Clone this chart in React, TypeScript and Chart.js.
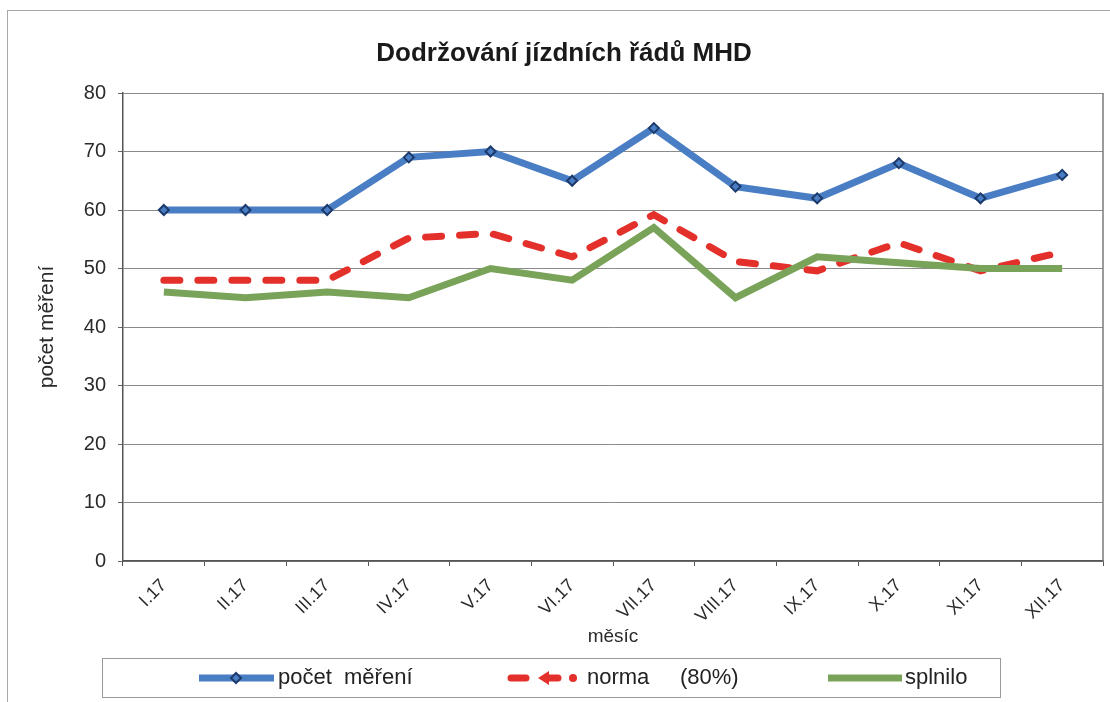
import React, { useEffect, useRef } from "react";
import { Chart, registerables } from "chart.js";

Chart.register(...registerables);

const categories = ["I.17", "II.17", "III.17", "IV.17", "V.17", "VI.17", "VII.17", "VIII.17", "IX.17", "X.17", "XI.17", "XII.17"];
const pocetMereni = [60, 60, 60, 69, 70, 65, 74, 64, 62, 68, 62, 66];
const norma = [48, 48, 48, 55.2, 56, 52, 59.2, 51.2, 49.6, 54.4, 49.6, 52.8];
const splnilo = [46, 45, 46, 45, 50, 48, 57, 45, 52, 51, 50, 50];
const yTicks = [0, 10, 20, 30, 40, 50, 60, 70, 80];
const legendLabels = ["počet  měření", "norma     (80%)", "splnilo"];

const BLUE = "#4a7ec4";
const BLUE_DARK = "#1c3a6b";
const RED = "#e3302b";
const GREEN = "#7aa35a";
const FONT = "'Liberation Sans', Arial, sans-serif";
const TITLE = "Dodržování jízdních řádů MHD";

const decorPlugin = {
  id: "decor",
  beforeDraw(chart: any) {
    const { ctx, width, height } = chart;
    ctx.save();
    ctx.fillStyle = "#ffffff";
    ctx.fillRect(0, 0, width, height);
    ctx.strokeStyle = "#a8a8a8";
    ctx.lineWidth = 1;
    ctx.strokeRect(7.5, 10.5, width + 10, height + 10);
    ctx.restore();
  },
  afterDraw(chart: any) {
    const { ctx, chartArea } = chart;
    ctx.save();
    // plot right border
    ctx.strokeStyle = "#7a7a7a";
    ctx.lineWidth = 1.5;
    ctx.beginPath();
    ctx.moveTo(chartArea.right, chartArea.top);
    ctx.lineTo(chartArea.right, chartArea.bottom);
    ctx.stroke();
    // title
    ctx.fillStyle = "#1a1a1a";
    ctx.font = `bold 26px ${FONT}`;
    ctx.textAlign = "center";
    ctx.textBaseline = "middle";
    ctx.fillText(TITLE, 564, 54);
    // legend box
    ctx.strokeStyle = "#9a9a9a";
    ctx.lineWidth = 1;
    ctx.strokeRect(102.5, 658.5, 898, 39);
    const ly = 678;
    // blue
    ctx.lineCap = "butt";
    ctx.strokeStyle = BLUE;
    ctx.lineWidth = 7;
    ctx.beginPath();
    ctx.moveTo(199, ly);
    ctx.lineTo(274, ly);
    ctx.stroke();
    ctx.fillStyle = BLUE;
    ctx.strokeStyle = BLUE_DARK;
    ctx.lineWidth = 2;
    ctx.beginPath();
    ctx.moveTo(236, ly - 5);
    ctx.lineTo(241, ly);
    ctx.lineTo(236, ly + 5);
    ctx.lineTo(231, ly);
    ctx.closePath();
    ctx.fill();
    ctx.stroke();
    // red: dash, arrow marker, dot
    ctx.strokeStyle = RED;
    ctx.fillStyle = RED;
    ctx.lineWidth = 7;
    ctx.lineCap = "round";
    ctx.beginPath();
    ctx.moveTo(511, ly);
    ctx.lineTo(526, ly);
    ctx.stroke();
    ctx.beginPath();
    ctx.moveTo(548, ly);
    ctx.lineTo(558, ly);
    ctx.stroke();
    ctx.beginPath();
    ctx.moveTo(538, ly);
    ctx.lineTo(549, ly - 7);
    ctx.lineTo(549, ly + 7);
    ctx.closePath();
    ctx.fill();
    ctx.beginPath();
    ctx.arc(573, ly, 4, 0, Math.PI * 2);
    ctx.fill();
    // green
    ctx.strokeStyle = GREEN;
    ctx.lineWidth = 7;
    ctx.lineCap = "butt";
    ctx.beginPath();
    ctx.moveTo(828, ly);
    ctx.lineTo(902, ly);
    ctx.stroke();
    // texts
    ctx.fillStyle = "#222222";
    ctx.font = `22px ${FONT}`;
    ctx.textAlign = "left";
    ctx.textBaseline = "middle";
    ctx.fillText(legendLabels[0], 278, ly);
    ctx.fillText(legendLabels[1], 587, ly);
    ctx.fillText(legendLabels[2], 905, ly);
    ctx.restore();
  },
};

export default function App() {
  const ref = useRef<HTMLCanvasElement>(null);
  useEffect(() => {
    document.body.style.margin = "0";
    const canvas = ref.current;
    if (!canvas) return;
    const chart = new Chart(canvas, {
      type: "line",
      data: {
        labels: categories,
        datasets: [
          {
            label: legendLabels[0],
            data: pocetMereni,
            borderColor: BLUE,
            backgroundColor: BLUE,
            borderWidth: 7,
            pointStyle: "rectRot",
            pointRadius: 5,
            pointBorderColor: BLUE_DARK,
            pointBackgroundColor: BLUE,
            pointBorderWidth: 2,
            tension: 0,
            order: 0,
          },
          {
            label: legendLabels[1],
            data: norma,
            borderColor: RED,
            backgroundColor: RED,
            borderWidth: 7,
            borderDash: [16, 18],
            borderCapStyle: "round",
            pointRadius: 0,
            tension: 0,
            order: 2,
          },
          {
            label: legendLabels[2],
            data: splnilo,
            borderColor: GREEN,
            backgroundColor: GREEN,
            borderWidth: 7,
            pointRadius: 0,
            tension: 0,
            order: 1,
          },
        ],
      },
      options: {
        animation: false,
        responsive: false,
        maintainAspectRatio: false,
        layout: { padding: { left: 10, right: 5, top: 93, bottom: 51 } },
        plugins: {
          legend: { display: false },
          title: { display: false },
          tooltip: { enabled: false },
        },
        scales: {
          x: {
            type: "category",
            offset: true,
            afterFit(scale: any) {
              scale.height = 90;
            },
            grid: {
              display: true,
              offset: true,
              drawOnChartArea: false,
              drawTicks: true,
              tickLength: 5,
              color: "#555555",
            },
            border: { display: true, color: "#555555", width: 1.5 },
            ticks: {
              color: "#2a2a2a",
              font: { family: FONT, size: 18 },
              maxRotation: 45,
              minRotation: 45,
              padding: 9,
              autoSkip: false,
            },
            title: {
              display: true,
              text: "měsíc",
              color: "#2a2a2a",
              font: { family: FONT, size: 19 },
              padding: { top: 0, bottom: 3 },
            },
          },
          y: {
            min: 0,
            max: 80,
            afterFit(scale: any) {
              scale.width = 113;
            },
            afterBuildTicks(scale: any) {
              scale.ticks = yTicks.map((v) => ({ value: v }));
            },
            grid: {
              color: "#8a8a8a",
              lineWidth: 1,
              drawTicks: true,
              tickLength: 5,
              tickColor: "#666666",
            },
            border: { display: true, color: "#555555", width: 1.5 },
            ticks: {
              color: "#2a2a2a",
              font: { family: FONT, size: 20 },
              padding: 12,
              stepSize: 10,
            },
            title: {
              display: true,
              text: "počet měření",
              color: "#2a2a2a",
              font: { family: FONT, size: 21 },
              padding: { top: 25, bottom: 0 },
            },
          },
        },
      },
      plugins: [decorPlugin],
    } as any);
    return () => chart.destroy();
  }, []);
  return (
    <canvas
      ref={ref}
      width={1110}
      height={702}
      style={{ display: "block", width: 1110, height: 702 }}
    />
  );
}
